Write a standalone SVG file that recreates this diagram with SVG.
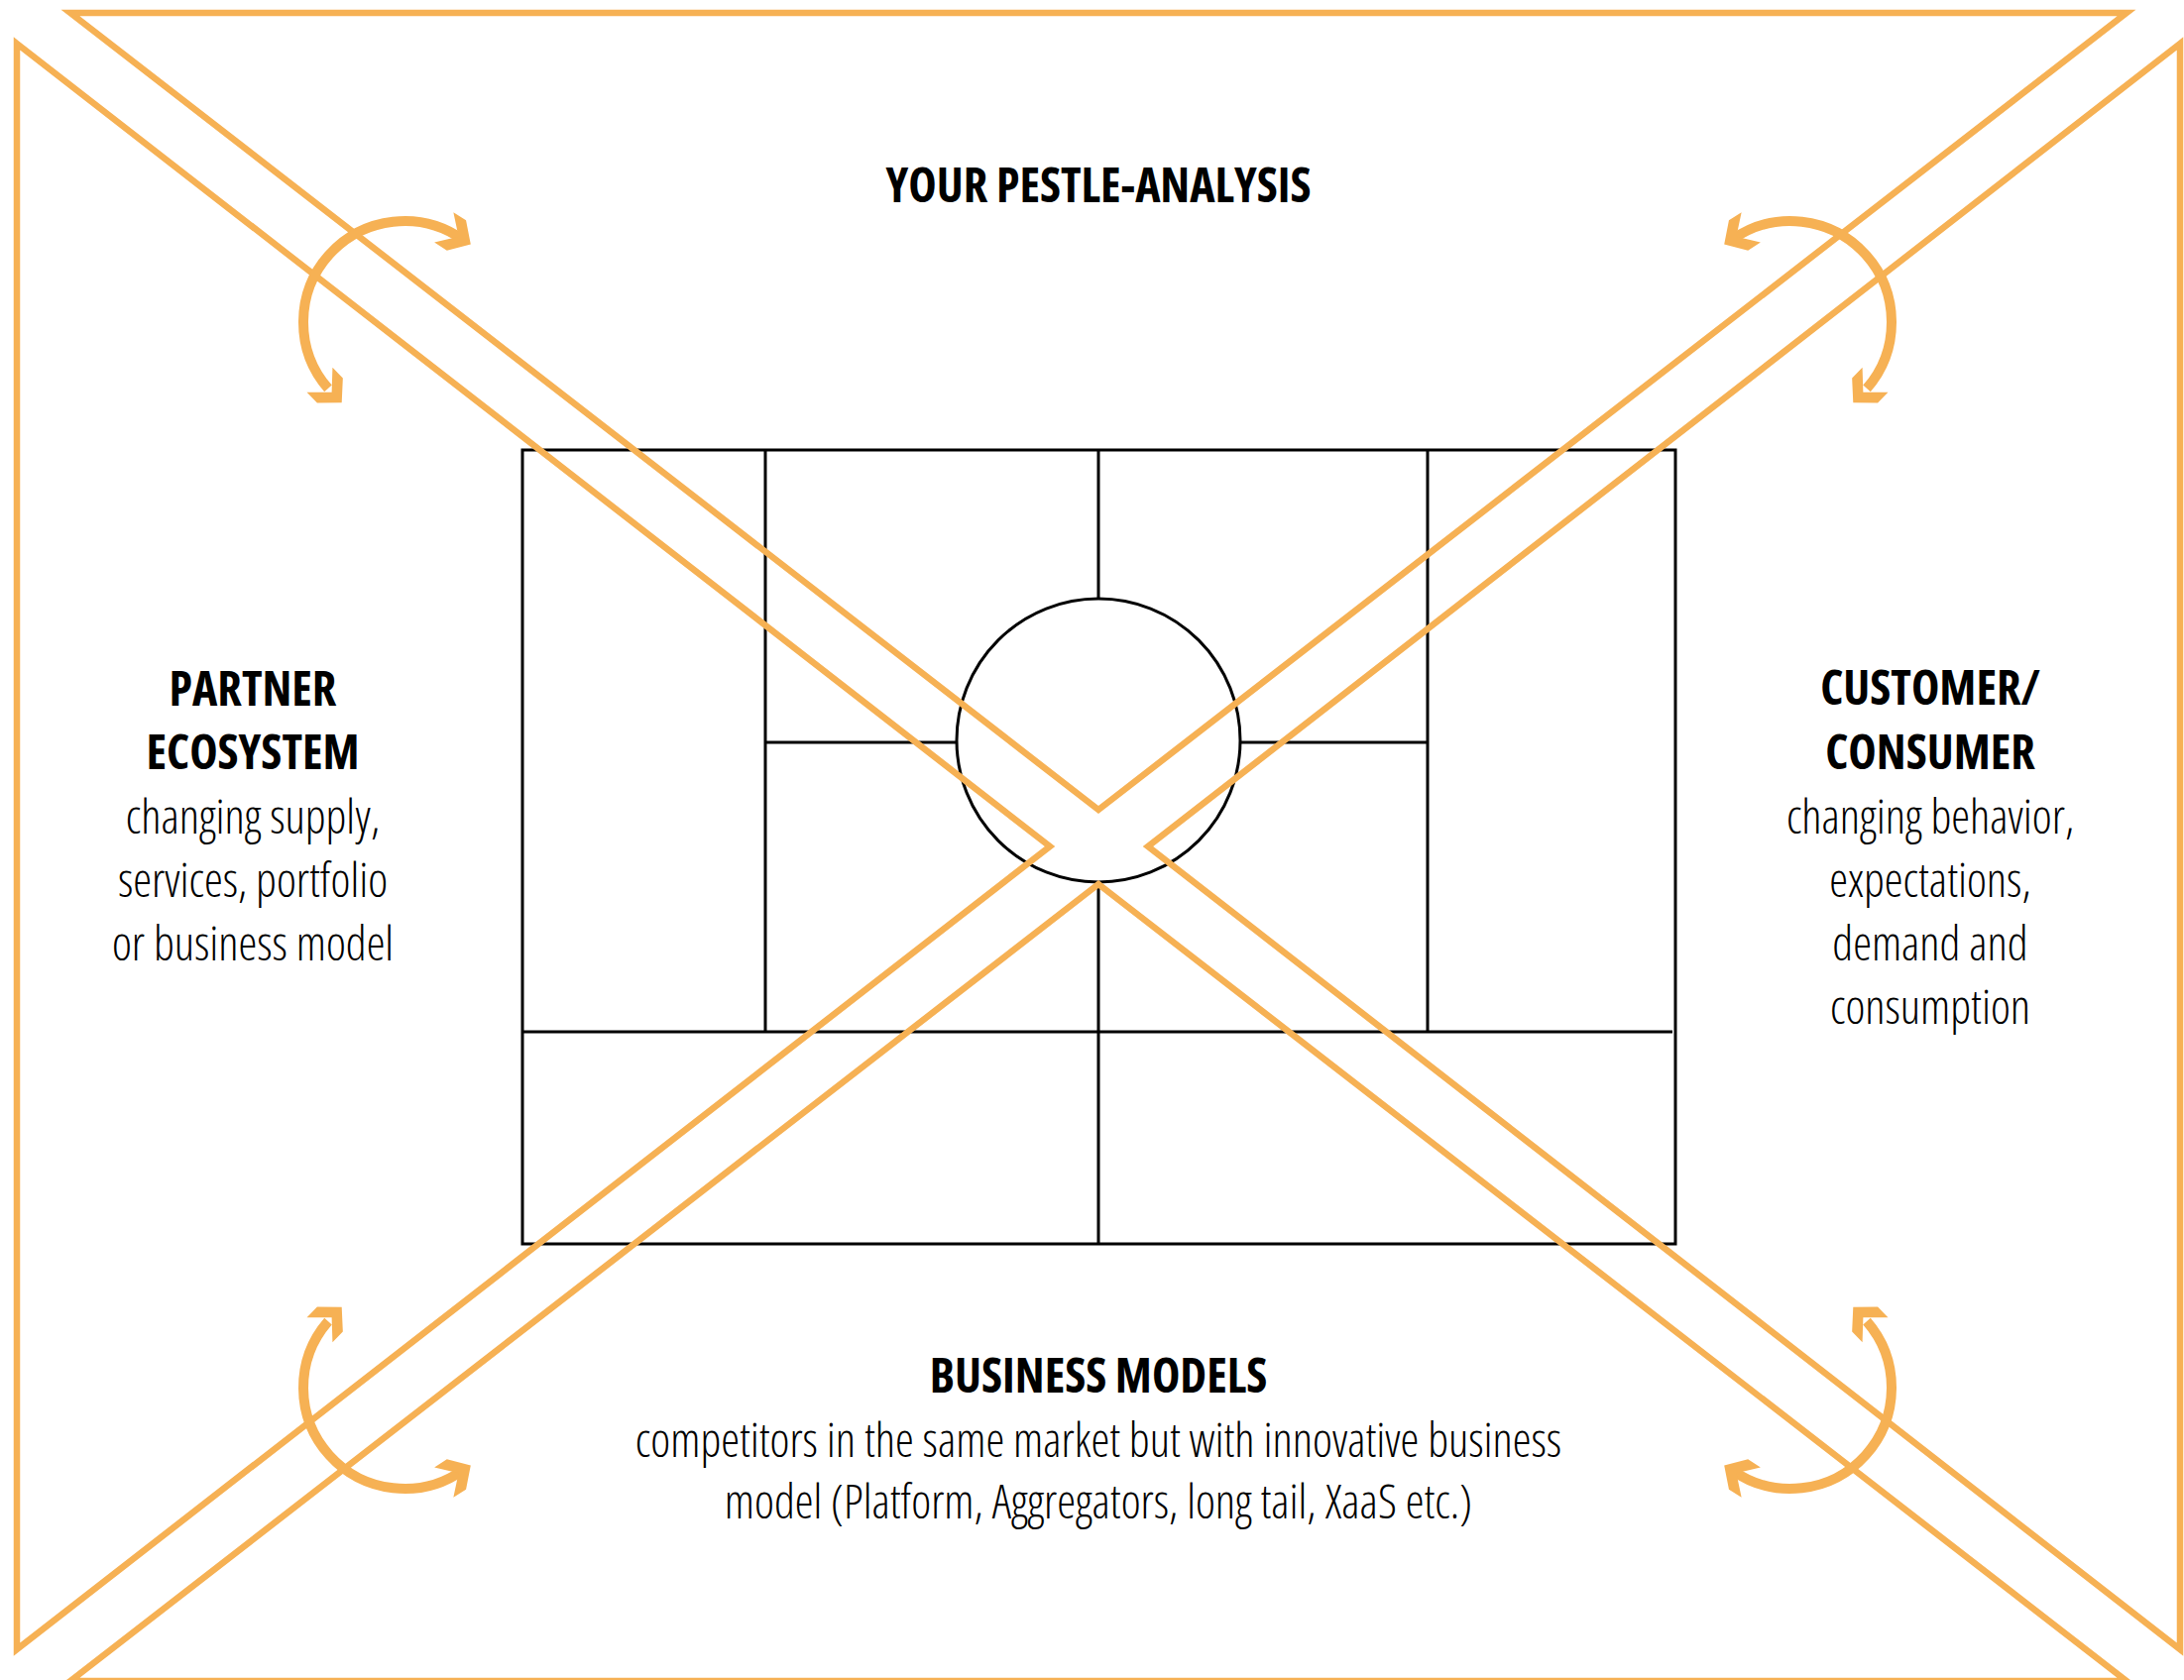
<svg xmlns="http://www.w3.org/2000/svg" xmlns:xlink="http://www.w3.org/1999/xlink" width="2203" height="1695" viewBox="0 0 2203 1695">
  <style>
    .tri { fill: none; stroke: #F6B154; stroke-width: 6.5; stroke-linejoin: miter; stroke-miterlimit: 10; }
    .grid { fill: none; stroke: #000; stroke-width: 3; }
    .arc { fill: none; stroke: #F6B154; stroke-width: 10; }
    .chev { fill: #F6B154; }
    .h { font-family: "Open Sans", "Liberation Sans", sans-serif; font-stretch: condensed; font-weight: 700; font-size: 48px; fill: #000; text-anchor: middle; }
    .b { font-family: "Open Sans", "Liberation Sans", sans-serif; font-stretch: condensed; font-weight: 300; font-size: 47.5px; fill: #000; text-anchor: middle; }
  </style>
  <defs>
    <path id="chevron" class="chev" d="M0,0 L-17,-18 L-32,-18 L-14.5,0 L-32,18 L-17,18 Z"/>
    <g id="dbl">
      <path class="arc" d="M58.5,-83.55 A102,102 0 0 0 -77.0,66.9"/>
      <use xlink:href="#chevron" transform="translate(66.8,-78.5) rotate(32.3)"/>
      <use xlink:href="#chevron" transform="translate(-63.3,81.3) rotate(46)"/>
    </g>
  </defs>
  <rect width="2203" height="1695" fill="#fff"/>

  <g id="canvas-grid">
    <rect class="grid" x="527" y="454" width="1163" height="801"/>
    <line class="grid" x1="772" y1="454" x2="772" y2="1041"/>
    <line class="grid" x1="1440" y1="454" x2="1440" y2="1041"/>
    <line class="grid" x1="1108" y1="454" x2="1108" y2="604"/>
    <line class="grid" x1="1108" y1="890" x2="1108" y2="1255"/>
    <line class="grid" x1="772" y1="749" x2="966" y2="749"/>
    <line class="grid" x1="1250" y1="749" x2="1440" y2="749"/>
    <line class="grid" x1="527" y1="1041" x2="1687" y2="1041"/>
    <circle class="grid" cx="1108" cy="747" r="143"/>
  </g>

  <g id="triangles">
    <polygon id="tri-top" class="tri" points="71,13 2145,13 1108,817"/>
    <polygon id="tri-left" class="tri" points="17,44 1059,854 17,1664"/>
    <polygon id="tri-right" class="tri" points="2199,44 1158,854 2199,1664"/>
    <polygon id="tri-bottom" class="tri" points="71,1696 1108,892 2145,1696"/>
  </g>

  <g id="connectors">
    <use xlink:href="#dbl" transform="translate(408,325)"/>
    <use xlink:href="#dbl" transform="translate(1806,325) scale(-1,1)"/>
    <use xlink:href="#dbl" transform="translate(408,1400) scale(1,-1)"/>
    <use xlink:href="#dbl" transform="translate(1806,1400) scale(-1,-1)"/>
  </g>

  <g id="node-pestle">
    <text class="h" x="1108" y="204">YOUR PESTLE-ANALYSIS</text>
  </g>
  <g id="node-partner">
    <text class="h" x="255" y="712">PARTNER</text>
    <text class="h" x="255" y="776">ECOSYSTEM</text>
    <text class="b" x="255" y="841">changing supply,</text>
    <text class="b" x="255" y="905">services, portfolio</text>
    <text class="b" x="255" y="969">or business model</text>
  </g>
  <g id="node-customer">
    <text class="h" x="1947" y="711">CUSTOMER/</text>
    <text class="h" x="1947" y="776">CONSUMER</text>
    <text class="b" x="1947" y="841">changing behavior,</text>
    <text class="b" x="1947" y="905">expectations,</text>
    <text class="b" x="1947" y="969">demand and</text>
    <text class="b" x="1947" y="1033">consumption</text>
  </g>
  <g id="node-business">
    <text class="h" x="1108" y="1405">BUSINESS MODELS</text>
    <text class="b" x="1108" y="1470">competitors in the same market but with innovative business</text>
    <text class="b" x="1108" y="1532">model (Platform, Aggregators, long tail, XaaS etc.)</text>
  </g>
</svg>
